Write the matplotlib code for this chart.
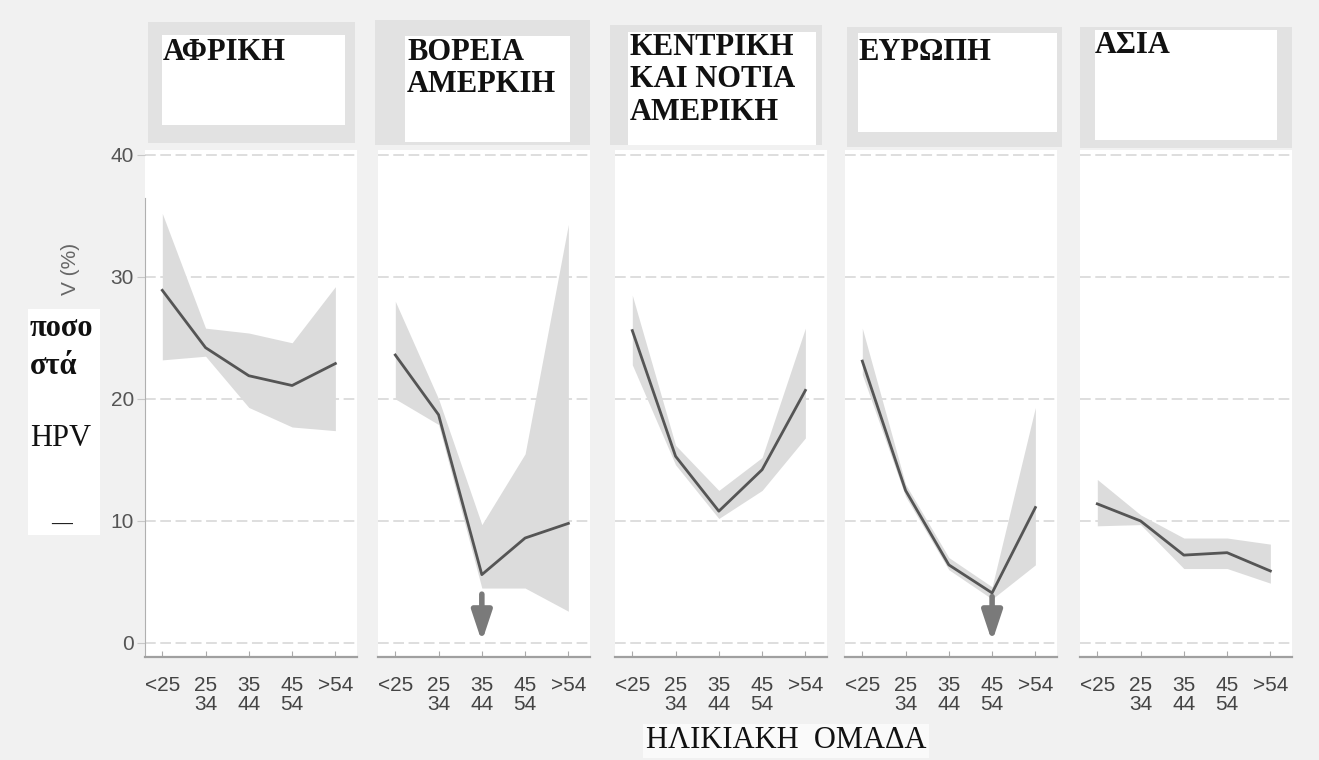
import matplotlib
matplotlib.use("Agg")
import matplotlib.pyplot as plt
from matplotlib.patches import Rectangle

# ---------------- data ----------------
age_groups = ["<25", "25\n34", "35\n44", "45\n54", ">54"]
regions = ["ΑΦΡΙΚΗ", "ΒΟΡΕΙΑ\nΑΜΕΡΚΙΗ", "ΚΕΝΤΡΙΚΗ\nΚΑΙ ΝΟΤΙΑ\nΑΜΕΡΙΚΗ", "ΕΥΡΩΠΗ", "ΑΣΙΑ"]

africa_mean = [28.9, 24.2, 21.9, 21.1, 22.9]
africa_low = [23.2, 23.5, 19.3, 17.7, 17.4]
africa_high = [35.2, 25.8, 25.4, 24.6, 29.2]

north_am_mean = [23.6, 18.7, 5.6, 8.6, 9.8]
north_am_low = [20.0, 17.9, 4.5, 4.5, 2.6]
north_am_high = [28.0, 20.0, 9.7, 15.5, 34.3]

central_south_am_mean = [25.6, 15.3, 10.8, 14.2, 20.7]
central_south_am_low = [22.8, 14.6, 10.2, 12.5, 16.8]
central_south_am_high = [28.5, 16.2, 12.5, 15.2, 25.8]

europe_mean = [23.1, 12.5, 6.4, 4.1, 11.1]
europe_low = [22.0, 12.0, 6.0, 3.6, 6.4]
europe_high = [25.8, 13.0, 7.0, 4.6, 19.3]

asia_mean = [11.4, 10.0, 7.2, 7.4, 5.9]
asia_low = [9.6, 9.7, 6.1, 6.1, 4.9]
asia_high = [13.4, 10.5, 8.6, 8.6, 8.1]

y_ticks = [0, 10, 20, 30, 40]
# arrows marking a lower limit: (panel index, age-group index, start value)
arrow_marks = [(1, 2, 4.0), (3, 3, 3.8)]

means = [africa_mean, north_am_mean, central_south_am_mean, europe_mean, asia_mean]
lows = [africa_low, north_am_low, central_south_am_low, europe_low, asia_low]
highs = [africa_high, north_am_high, central_south_am_high, europe_high, asia_high]

# ---------------- layout (pixels) ----------------
W, H = 1319, 760
fig = plt.figure(figsize=(W / 100, H / 100), dpi=100, facecolor="#f1f1f1")


def fx(x):
    return x / W


def fy(y):
    return 1 - y / H


axes_left = [145, 378, 615, 845, 1080]
axes_w = 212
ax_top, ax_bot = 150, 657

# header boxes: (gray x0,y0,x1,y1), (white x0,y0,x1,y1), title pos
headers = [
    ((148, 22, 355, 143), (162, 35, 345, 125), (163, 38)),
    ((375, 20, 590, 145), (405, 36, 570, 142), (407, 38)),
    ((610, 25, 822, 145), (628, 32, 816, 145), (630, 33)),
    ((847, 27, 1062, 147), (858, 33, 1057, 132), (858, 38)),
    ((1080, 27, 1292, 148), (1095, 30, 1277, 140), (1095, 31)),
]

for (g, w, tp), title in zip(headers, regions):
    fig.add_artist(Rectangle((fx(g[0]), fy(g[3])), fx(g[2] - g[0]), (g[3] - g[1]) / H,
                             transform=fig.transFigure, facecolor="#e2e2e2",
                             edgecolor="none", zorder=0))
    fig.add_artist(Rectangle((fx(w[0]), fy(w[3])), fx(w[2] - w[0]), (w[3] - w[1]) / H,
                             transform=fig.transFigure, facecolor="white",
                             edgecolor="none", zorder=1))
    fig.text(fx(tp[0]), fy(tp[1]), title, ha="left", va="top",
             fontsize=22, family="Liberation Serif", fontweight="bold",
             linespacing=1.15, color="#111111", zorder=2)

for i in range(5):
    ax = fig.add_axes([fx(axes_left[i]), fy(ax_bot), fx(axes_w), (ax_bot - ax_top) / H])
    ax.set_facecolor("white")
    x = list(range(len(age_groups)))
    ax.fill_between(x, lows[i], highs[i], color="#dcdcdc", linewidth=0, zorder=2)
    ax.plot(x, means[i], color="#555555", linewidth=2.0, zorder=3)
    ax.set_xlim(-0.4, 4.5)
    ax.set_ylim(-1.15, 40.4)
    for yt in y_ticks:
        ax.axhline(yt, color="#d4d4d4", linewidth=1.1, linestyle=(0, (7, 3)), zorder=1)
    for s in ["top", "right", "left"]:
        ax.spines[s].set_visible(False)
    ax.spines["bottom"].set_color("#a0a0a0")
    ax.spines["bottom"].set_linewidth(1.6)
    ax.set_xticks(x)
    ax.set_xticklabels(age_groups, fontsize=15, color="#444444", family="Liberation Sans")
    for lab in ax.get_xticklabels():
        lab.set_linespacing(0.95)
    ax.tick_params(axis="x", direction="in", length=4, color="#aaaaaa", pad=14)
    if i == 0:
        ax.spines["left"].set_visible(True)
        ax.spines["left"].set_color("#b0b0b0")
        ax.spines["left"].set_bounds(-1.15, 36.5)
        ax.set_yticks(y_ticks)
        ax.set_yticklabels([str(v) for v in y_ticks], fontsize=15, color="#555555",
                           family="Liberation Sans")
        ax.tick_params(axis="y", direction="out", length=6, color="#c8c8c8", pad=2)
    else:
        ax.set_yticks([])
    for (pi, ai, yv) in arrow_marks:
        if pi == i:
            ax.annotate("", xy=(ai, 0.1), xytext=(ai, yv),
                        arrowprops=dict(arrowstyle="-|>,head_width=0.3,head_length=0.9",
                                        color="#7a7a7a", lw=4.0, mutation_scale=20,
                                        shrinkA=0, shrinkB=0), zorder=4)

# visible remainder of the rotated y label, then the white box with the Greek label
fig.text(fx(70), fy(243), "V (%)", rotation=90, ha="center", va="top",
         fontsize=15, color="#666666", family="Liberation Sans", zorder=3)
fig.add_artist(Rectangle((fx(28), fy(535)), fx(72), (535 - 309) / H,
                         transform=fig.transFigure, facecolor="white",
                         edgecolor="none", zorder=4))
fig.text(fx(30), fy(328), "ποσο", ha="left", va="center", fontsize=22,
         family="Liberation Serif", fontweight="bold", color="#111111", zorder=5)
fig.text(fx(30), fy(366), "στά", ha="left", va="center", fontsize=22,
         family="Liberation Serif", fontweight="bold", color="#111111", zorder=5)
fig.text(fx(30), fy(438), "HPV", ha="left", va="center", fontsize=22,
         family="Liberation Serif", color="#111111", zorder=5)
fig.text(fx(62), fy(525), "—", ha="center", va="center", fontsize=15,
         family="Liberation Serif", fontweight="bold", color="#111111", zorder=5)

# x-axis title
fig.text(fx(786), fy(741), "ΗΛΙΚΙΑΚΗ  ΟΜΑΔΑ", ha="center", va="center", fontsize=22,
         family="Liberation Serif", color="#111111",
         bbox=dict(facecolor="#fafafa", edgecolor="none", pad=2))

fig.savefig("out.png", dpi=100, facecolor=fig.get_facecolor())
